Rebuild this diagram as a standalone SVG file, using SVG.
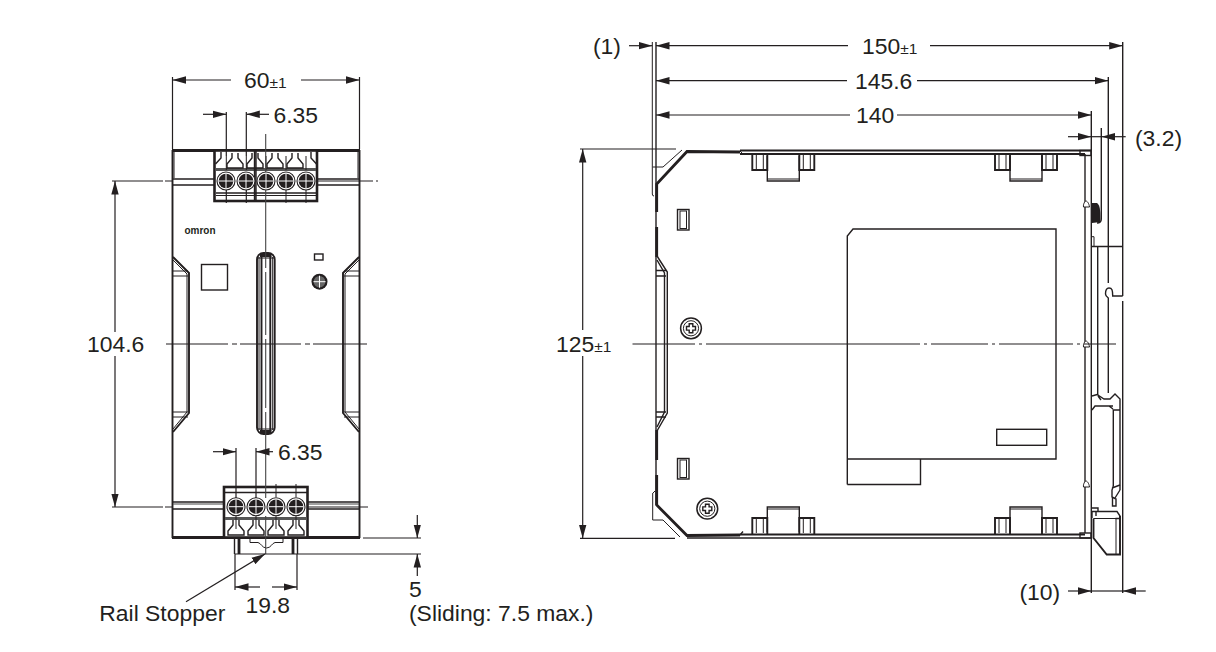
<svg xmlns="http://www.w3.org/2000/svg" xmlns:xlink="http://www.w3.org/1999/xlink" width="1216" height="652" viewBox="0 0 1216 652">
<style>
.t{fill:none;stroke:#231f20;stroke-width:1}
.n{fill:none;stroke:#231f20;stroke-width:1.4}
.m{fill:none;stroke:#231f20;stroke-width:1.9}
.k{fill:none;stroke:#231f20;stroke-width:2.8}
.g{fill:none;stroke:#444;stroke-width:1.1}
.d{fill:none;stroke:#231f20;stroke-width:1.2}
.a{marker-end:url(#arrow)}
text{font-family:"Liberation Sans",Arial,sans-serif;font-size:22.9px;fill:#231f20}
tspan.s{font-size:15.5px}
</style>
<defs>
<marker id="arrow" markerUnits="userSpaceOnUse" markerWidth="15" markerHeight="9" refX="13.5" refY="4" orient="auto"><path d="M0,0.300L13.500,4L0,7.700z" fill="#231f20"/></marker>
<g id="screw">
<circle r="9" fill="#fff" stroke="#231f20" stroke-width="1.1"/>
<circle r="7.300" fill="#231f20"/>
<path d="M-7.300,0H7.300M0,-7.300V7.300" stroke="#fff" stroke-width="1"/>
</g>
<path id="bell" class="n" d="M-3,-15V-10L-8,-4V0H8V-4L3,-10V-15" fill="#fff"/>
<g id="tab">
<path class="m" d="M0,0V16H15V0M47,0V16H62V0"/>
<path class="t" d="M4,1V15M11,1V15M51,1V15M58,1V15"/>
<path class="n" d="M15,2V27H47V2"/>
<path class="t" d="M15,25H47"/>
</g>
<g id="pan">
<circle r="10.400" fill="#fff" stroke="#231f20" stroke-width="1.500"/>
<circle r="7.600" class="t"/>
<path class="n" d="M-1.800,-4.500H1.800V-1.800H4.500V1.800H1.800V4.500H-1.800V1.800H-4.500V-1.800H-1.800Z" fill="#fff"/>
</g>
<path id="dot" d="M-2.500,3C-3,0 -1,-3 0,-3C1,-3 3,-1 3.500,3Z" fill="#fff" stroke="#231f20" stroke-width="1"/>
</defs>
<rect width="1216" height="652" fill="#fff"/>

<g id="front-view">
<path class="m" d="M172.500,150V538M359.500,150V538"/>
<path class="k" d="M172,150.500H360M172,537.500H360"/>
<path class="t" d="M174,152V178M358,152V178"/>
<path class="n" d="M173,179H214M317,179H359M173,185H214M317,185H359"/>
<path class="n" d="M173,502H224M307,502H359M173,509H224M307,509H359"/>
<path class="g" d="M173,504H224M307,504H359"/>
<g id="left-grip"><path class="m" d="M173,257L189,273V413L173,432"/><path class="t" d="M173,260L187,274V412L173,429M173,271H188M173,276H188M173,412H188M173,417H188"/></g>
<g id="right-grip"><path class="m" d="M359,257L343,273V413L359,432"/><path class="t" d="M359,260L345,274V412L359,429M359,271H344M359,276H344M359,412H344M359,417H344"/></g>
<rect class="n" x="201.500" y="264.500" width="26" height="25.500"/>
<rect class="n" x="314.500" y="254" width="8.500" height="6"/>
<g id="adjuster" transform="translate(319.500,281.700)"><circle r="8" fill="#231f20"/><circle r="5.800" fill="#666"/><path d="M-6,0H6M0,-6V6" stroke="#fff" stroke-width="1"/></g>
<text x="184.500" y="234" style="font-size:10px;font-weight:bold" textLength="31" lengthAdjust="spacingAndGlyphs">omron</text>
<g id="slot">
<rect class="m" x="257" y="253" width="17.700" height="181" rx="6.500" fill="#fff"/>
<path class="t" d="M259,257V430M272.700,257V430M257.500,258H274M257.500,429H274"/>
<path class="m" d="M261.500,256V431M270.300,256V431"/>
<path class="k" d="M260,255.500H271.500M260,431.500H271.500"/>
</g>
<g id="top-terminal">
<rect x="214.500" y="150.500" width="102.500" height="50.500" fill="#fff" stroke="#231f20" stroke-width="2.600"/>
<path d="M216,169.500H316" stroke="#555" stroke-width="3"/>
<path class="n" d="M216,193H316"/>
<path class="t" d="M216,195.500H316"/>
<use xlink:href="#bell" href="#bell" transform="translate(235,168)"/>
<use xlink:href="#bell" href="#bell" transform="translate(255,168)"/>
<use xlink:href="#bell" href="#bell" transform="translate(275,168)"/>
<use xlink:href="#bell" href="#bell" transform="translate(295,168)"/>
<path class="n" d="M215.500,164L221,158V152M311,152V158L316.500,164M256,151V201M254.500,151V201"/>
<path class="t" d="M226.300,156V170M246.300,156V170M266,156V170M286,156V170M306,156V170"/>
<use xlink:href="#screw" href="#screw" x="226" y="181"/>
<use xlink:href="#screw" href="#screw" x="246" y="181"/>
<use xlink:href="#screw" href="#screw" x="266" y="181"/>
<use xlink:href="#screw" href="#screw" x="286" y="181"/>
<use xlink:href="#screw" href="#screw" x="306" y="181"/>
<path class="t" d="M286,190V203M306,190V203"/>
</g>
<g id="bottom-terminal">
<rect x="224" y="487" width="83.500" height="50.500" fill="#fff" stroke="#231f20" stroke-width="2.600"/>
<path d="M225,518.500H307" stroke="#555" stroke-width="3"/>
<path class="n" d="M225,492.500H307"/>
<use xlink:href="#bell" href="#bell" transform="translate(236,535)"/>
<use xlink:href="#bell" href="#bell" transform="translate(256,535)"/>
<use xlink:href="#bell" href="#bell" transform="translate(276,535)"/>
<use xlink:href="#bell" href="#bell" transform="translate(296,535)"/>
<path class="t" d="M236,515V529M256,515V529M276,515V529M296,515V529"/>
<use xlink:href="#screw" href="#screw" x="236" y="506.700"/>
<use xlink:href="#screw" href="#screw" x="256" y="506.700"/>
<use xlink:href="#screw" href="#screw" x="276" y="506.700"/>
<use xlink:href="#screw" href="#screw" x="296" y="506.700"/>
<path class="t" d="M276,484V497M296,484V497"/>
</g>
<g id="rail-stopper">
<path class="n" d="M234.500,538V554M297.500,538V554"/>
<path class="k" d="M239,538V554M293,538V554"/>
<path class="t" d="M250,538V542.500H258C261,543 262,548 266.500,548C271,548 272,543 275,542.500H283V538"/>
</g>
</g>

<g id="side-view">
<g id="housing">
<path class="n" d="M656,42V505"/>
<path class="k" d="M656.700,212V184L687,151.500L740,152"/>
<path class="m" d="M740,150.500H1091M740,154H1085"/>
<path class="t" d="M740,151L743,154"/>
<path class="k" d="M656.700,227V257M656.700,430V460M656.700,475V505L687,535.500L740,535"/>
<path class="m" d="M740,534.500H1085"/>
<path class="n" d="M687,538H1091M740,535L743,531.500"/>
<path class="t" d="M652.300,42V194M652.700,167H663L682,150M652.700,493V520H663L680,537"/>
<path class="t" d="M652.300,194Q652.300,196 654,196M653,493L655,491"/>
<path class="n" d="M657,256L667.300,272V413L657,431M656,270.500H666M656,276H666M656,412H666M656,417H666"/>
<path class="n" d="M657,260L664.500,273V412L657,427"/>
<rect class="n" x="677.500" y="209.500" width="11.500" height="20.500"/>
<rect class="t" x="680" y="211" width="6.500" height="17.500"/>
<rect class="n" x="677.500" y="458.500" width="11.500" height="20.500"/>
<rect class="t" x="680" y="460" width="6.500" height="17.500"/>
<use xlink:href="#pan" href="#pan" x="691" y="328.300"/>
<use xlink:href="#pan" href="#pan" x="707.300" y="508.700"/>
<use xlink:href="#tab" href="#tab" transform="translate(752.300,154)"/>
<use xlink:href="#tab" href="#tab" transform="translate(995,154)"/>
<use xlink:href="#tab" href="#tab" transform="translate(752.300,534) scale(1,-1)"/>
<use xlink:href="#tab" href="#tab" transform="translate(995,534) scale(1,-1)"/>
<path class="n" d="M1085,154V533"/>
<rect class="n" x="1080" y="150.500" width="11" height="5"/>
<rect class="n" x="1080" y="533" width="11" height="5"/>
<use xlink:href="#dot" href="#dot" x="1086" y="204"/>
<use xlink:href="#dot" href="#dot" x="1086" y="344"/>
<use xlink:href="#dot" href="#dot" x="1086" y="484"/>
</g>
<g id="label-plate">
<path class="n" d="M847.300,459V236L853,229H1056V459H847.300ZM847.300,484.500H920.500V459M847.300,459V484.500"/>
<rect class="n" x="996.700" y="429.300" width="50" height="16"/>
</g>
<g id="din-clip">
<path class="n" d="M1091.300,111V593"/>
<path class="n" d="M1101.300,128V219C1101.300,222 1099,223 1097,223"/>
<path d="M1092,203H1097C1100,205 1100.500,210 1100.500,222L1092,223Z" fill="#231f20"/>
<path class="t" d="M1091.300,236.700H1094V246"/>
<path class="n" d="M1091.300,246.500H1122.700M1097.700,246.500V395"/>
<path class="n" d="M1108.300,77V283M1122.700,296V42M1122.700,301V593M1122.700,296H1112.700C1112.700,290 1112,288 1109,288C1106,288 1105.500,290 1105.500,294C1105.500,296 1107,297 1108.300,298V393"/>
<path class="n" d="M1092,396L1097,394.500L1104,399H1110L1115,394L1120,399V410H1113.300V486M1092,410L1095,406H1113M1120,410V490M1098,396L1101,400M1109,406L1113,409"/>
<path class="n" d="M1113.300,486L1112,490V497L1116,499V506H1112.500V498M1120,485L1112,488M1120,490L1115,498"/>
<path class="n" d="M1092,508H1098V511.500H1117L1120,516V518.500H1115.500M1092,512V518M1092,511.500H1098M1096,511.500V516"/>
<path class="m" d="M1093.500,518.500V538L1106.700,554.500H1120V516"/>
<path class="t" d="M1093.500,518.500H1116V554.500"/>
</g>
</g>

<g id="connectors">
<path class="d" d="M172.500,77V149M359.500,77V149"/>
<path class="d a" d="M231,80H172.500"/>
<path class="d a" d="M301,80H359.500"/>
<path class="d" d="M226.300,112V156M246.300,112V156M226.300,190V203M246.300,190V203"/>
<path class="d a" d="M203,114.300H226.300"/>
<path class="d a" d="M269,114.300H246.300"/>
<path class="g" d="M265.700,134V172M265.700,190V268M265.700,272V335M265.700,339V408M265.700,412V498M265.700,516V554"/>
<path class="d" d="M236,448V498M256,448V498"/>
<path class="d a" d="M213,451.700H236"/>
<path class="d a" d="M273,451.700H256"/>
<path class="d" d="M112,181H163M165,181H172M317,181H373M376,181H378M112,507H163M165,507H172M307,507H368"/>
<path class="d a" d="M115,332V181"/>
<path class="d a" d="M115,356V507"/>
<path class="d" d="M166,344H228M232,344H237M240,344H301M305,344H310M313,344H367"/>
<path class="d" d="M363,538H421M234.500,554H421M235,554V590M297,554V590"/>
<path class="d a" d="M417.300,515V538"/>
<path class="d a" d="M417.300,576V554"/>
<path class="d a" d="M260,587H235"/>
<path class="d a" d="M272,587H297"/>
<path class="d a" d="M186,601.700L265,554"/>
<path class="d" d="M580,149H676M580,538.300H675"/>
<path class="d a" d="M582.700,330V149"/>
<path class="d a" d="M582.700,356V538.300"/>
<path class="d" d="M632.500,344H695M699,344H702M706,344H920M924,344H927M931,344H988M992,344H995M999,344H1073M1077,344H1080M1084,344H1116"/>
<path class="d a" d="M629,45.700H652.300"/>
<path class="d a" d="M848,45.700H656"/>
<path class="d a" d="M930,45.700H1122.700"/>
<path class="d a" d="M847,80.700H656"/>
<path class="d a" d="M917,80.700H1108.300"/>
<path class="d a" d="M850,115H656"/>
<path class="d a" d="M897,115H1091.300"/>
<path class="d a" d="M1068,136.700H1091.300"/>
<path class="d" d="M1091.300,136.700H1102"/>
<path class="d a" d="M1125.700,136.700H1101.500"/>
<path class="d a" d="M1068,591H1091.300"/>
<path class="d" d="M1091.300,591H1122.700"/>
<path class="d a" d="M1145.700,591H1122.700"/>
</g>

<g id="labels">
<text x="244" y="88">60<tspan class="s">±1</tspan></text>
<text x="273.500" y="122.700">6.35</text>
<text x="278" y="460">6.35</text>
<text x="87" y="352">104.6</text>
<text x="245.500" y="612.700">19.8</text>
<text x="99.300" y="620.700">Rail Stopper</text>
<text x="409" y="597">5</text>
<text x="409" y="620.700">(Sliding: 7.5 max.)</text>
<text x="593" y="54">(1)</text>
<text x="862" y="54">150<tspan class="s">±1</tspan></text>
<text x="855" y="89">145.6</text>
<text x="856" y="123">140</text>
<text x="1135" y="145.700">(3.2)</text>
<text x="556" y="352">125<tspan class="s">±1</tspan></text>
<text x="1019.500" y="600">(10)</text>
</g>
</svg>
